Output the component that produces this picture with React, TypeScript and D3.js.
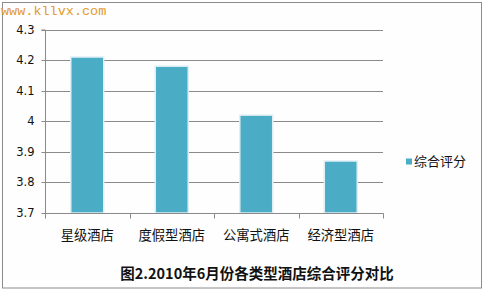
import React, { useEffect, useRef } from "react";
import * as d3 from "d3";

const categories = ["星级酒店", "度假型酒店", "公寓式酒店", "经济型酒店"];
const values = [4.21, 4.18, 4.02, 3.87];
const yTicks = [3.7, 3.8, 3.9, 4.0, 4.1, 4.2, 4.3];
const seriesName = "综合评分";
const title = "图2.2010年6月份各类型酒店综合评分对比";
const watermark = "www.kllvx.com";

const W = 485;
const H = 293;
const BAR = "#4bacc6";
const GRID = "#8a8a8a";

export default function App() {
  const ref = useRef<SVGSVGElement>(null);
  useEffect(() => {
    const svg = d3.select(ref.current);
    svg.selectAll("*").remove();

    // outer frame
    svg.append("rect").attr("x", 0).attr("y", 0).attr("width", W).attr("height", H).attr("fill", "#ffffff");
    svg.append("rect").attr("x", 2.5).attr("y", 2.5).attr("width", 479).attr("height", 285.5)
      .attr("fill", "#fdfefd").attr("stroke", "#8c8c8c").attr("stroke-width", 1);

    const x = d3.scaleBand<string>().domain(categories).range([45, 383]).paddingInner(0.61).paddingOuter(0.305);
    const xBand = d3.scaleBand<string>().domain(categories).range([45, 383]).padding(0);
    const y = d3.scaleLinear().domain([3.7, 4.3]).range([213, 29.5]);

    // gridlines
    svg.append("g").selectAll("line").data(yTicks.filter(t => t > 3.7)).join("line")
      .attr("x1", 45).attr("x2", 383)
      .attr("y1", d => Math.round(y(d)) + 0.5).attr("y2", d => Math.round(y(d)) + 0.5)
      .attr("stroke", GRID).attr("stroke-width", 1);

    // bars
    svg.append("g").selectAll("rect").data(values).join("rect")
      .attr("x", (d, i) => x(categories[i])!)
      .attr("width", x.bandwidth())
      .attr("y", d => y(d))
      .attr("height", d => y(3.7) - y(d))
      .attr("fill", BAR)
      .attr("stroke", "#dfeff4").attr("stroke-width", 1.5);

    // y axis
    const yAxis = d3.axisLeft(y).tickValues(yTicks).tickSize(4).tickPadding(7)
      .tickFormat(d => d3.format("~g")(d as number));
    const gy = svg.append("g").attr("transform", "translate(45.5,0.5)").call(yAxis);
    gy.select(".domain").attr("stroke", GRID).attr("d", `M-4,${y(4.3)}H0V${y(3.7)}`);
    gy.selectAll(".tick line").attr("stroke", GRID);
    gy.selectAll(".tick").attr("transform", (d: any) => `translate(0,${Math.round(y(d))})`);
    gy.selectAll("text").attr("font-family", "DejaVu Sans, sans-serif").attr("font-size", 11.5).attr("fill", "#111");

    // x axis
    const gx = svg.append("g").attr("transform", `translate(0,${Math.round(y(3.7)) + 0.5})`);
    gx.append("line").attr("x1", 45).attr("x2", 383.5).attr("stroke", GRID);
    const edges = [...categories.map(c => xBand(c)!), 383];
    gx.selectAll("line.tk").data(edges).join("line").attr("class", "tk")
      .attr("x1", d => Math.round(d) + 0.5).attr("x2", d => Math.round(d) + 0.5)
      .attr("y1", 0).attr("y2", 5).attr("stroke", GRID);
    gx.selectAll("text").data(categories).join("text")
      .attr("x", d => xBand(d)! + xBand.bandwidth() / 2)
      .attr("y", 26)
      .attr("text-anchor", "middle")
      .attr("font-family", "Noto Sans CJK SC, sans-serif").attr("font-size", 13.3).attr("fill", "#111")
      .text(d => d);

    // legend
    svg.append("rect").attr("x", 406).attr("y", 158.5).attr("width", 6).attr("height", 6).attr("fill", BAR);
    svg.append("text").attr("x", 414).attr("y", 166).attr("font-family", "Noto Sans CJK SC, sans-serif")
      .attr("font-size", 13).attr("fill", "#111").text(seriesName);

    // title
    svg.append("text").attr("x", 257).attr("y", 279).attr("text-anchor", "middle")
      .attr("font-family", "Noto Sans CJK SC, sans-serif").attr("font-weight", "bold")
      .attr("font-size", 14.5).attr("fill", "#111").text(title);

    // watermark
    svg.append("text").attr("x", 1).attr("y", 15).attr("font-family", "Liberation Mono, monospace")
      .attr("font-size", 13.5).attr("fill", "#e39a2c").text(watermark);
  }, []);
  return (
    <svg ref={ref} width={W} height={H} style={{ position: "absolute", left: 0, top: 0 }} />
  );
}
